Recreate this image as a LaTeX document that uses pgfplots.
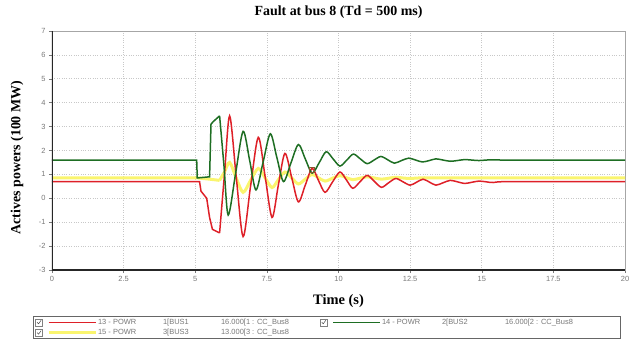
\documentclass[border=0pt]{standalone}
\usepackage{fontspec}
\setmainfont{Liberation Serif}
\setsansfont{Liberation Sans}
\usepackage{pgfplots}
\pgfplotsset{compat=1.18}
\definecolor{cred}{RGB}{222,32,40}
\definecolor{cgreen}{RGB}{30,110,35}
\definecolor{cyellow}{RGB}{250,245,110}
\definecolor{tickgray}{RGB}{120,120,120}
\definecolor{gridgray}{RGB}{200,200,200}
\begin{document}
\begin{tikzpicture}
\path[use as bounding box] (-52bp,-73bp) rectangle (584bp,270bp);
\begin{axis}[
  scale only axis,
  width=573bp, height=239bp,
  xmin=0, xmax=20, ymin=-3, ymax=7,
  xtick={0,2.5,5,7.5,10,12.5,15,17.5,20},
  ytick={-3,-2,-1,0,1,2,3,4,5,6,7},
  /pgf/number format/assume math mode=true,
  tick label style={font=\sffamily\fontsize{7.5}{8}\selectfont, text=tickgray},
  tick pos=left, tick align=outside,
  major tick length=3bp,
  tick style={tickgray, line width=0.4pt},
  grid=major,
  grid style={dotted, gridgray, line width=0.6pt},
  axis line style={gray!70, line width=0.6pt},
  title={Fault at bus 8 (Td = 500 ms)},
  title style={font=\bfseries\fontsize{14}{16}\selectfont, at={(axis description cs:0.5,1.054)}, anchor=center},
  xlabel={Time (s)},
  xlabel style={font=\bfseries\fontsize{14.5}{16}\selectfont, at={(axis description cs:0.5,-0.13)}, anchor=center},
  ylabel={Actives powers (100 MW)},
  ylabel style={font=\bfseries\fontsize{14}{16}\selectfont, at={(axis description cs:-0.061,0.47)}, anchor=center},
  legend columns=2,
  legend style={at={(axis description cs:-0.033,-0.1925)}, anchor=north west,
    draw=gray!80!black, line width=0.6pt, font=\sffamily\fontsize{7.5}{9}\selectfont, text=tickgray,
    inner xsep=2bp, inner ysep=1.5bp, row sep=1.5bp,
    nodes={inner sep=1bp}, /tikz/column sep=0bp},
  legend cell align=left,
  legend image code/.code={
    \draw[gray, line width=0.4pt, solid] (0bp,-3.5bp) rectangle (7bp,3.5bp);
    \draw[black!70, line width=0.5pt, solid] (1.5bp,0bp) -- (3bp,-1.5bp) -- (5.5bp,2bp);
    \draw[#1] (13bp,0bp) -- (60bp,0bp);
  },
]
% yellow
\addplot[cyellow, line width=3bp, forget plot] coordinates {
(0,0.85) (5.1,0.85) (5.5,0.8) (5.85,0.75)};
\addplot[cyellow, line width=3bp, smooth, forget plot] coordinates {
(5.85,0.75) (6.02,1.1) (6.2,1.5) (6.43,0.85) (6.67,0.25) (6.93,0.75) (7.2,1.25) (7.44,0.85) (7.68,0.45)
(7.9,0.78) (8.13,1.1) (8.37,0.85) (8.6,0.6) (8.84,0.8) (9.08,1.0) (9.3,0.86) (9.53,0.72)
(9.79,0.84) (10.05,0.95) (10.28,0.86) (10.5,0.78) (10.75,0.84) (11.0,0.9) (11.25,0.85)
(11.5,0.8) (11.75,0.84) (12.0,0.88) (12.25,0.85) (12.5,0.83) (13.0,0.86) (14.0,0.85) (20,0.85)};
% red
\addplot[cred, line width=1.5bp, forget plot] coordinates {
(0,0.7) (5.15,0.7) (5.2,0.3) (5.4,0.0) (5.5,-0.8) (5.6,-1.3) (5.85,-1.45)};
\addplot[cred, line width=1.5bp, smooth, forget plot] coordinates {
(5.85,-1.45) (6.02,1.0) (6.2,3.45) (6.43,0.9) (6.67,-1.6) (6.93,0.5) (7.2,2.55) (7.44,0.9)
(7.68,-0.8) (7.9,0.55) (8.13,1.88) (8.37,0.85) (8.6,-0.15) (8.84,0.55) (9.08,1.25)
(9.3,0.75) (9.53,0.25) (9.79,0.68) (10.05,1.1) (10.28,0.76) (10.5,0.42) (10.75,0.69)
(11.0,0.96) (11.25,0.71) (11.5,0.46) (11.75,0.65) (12.0,0.83) (12.25,0.69) (12.5,0.55)
(12.72,0.67) (12.95,0.8) (13.17,0.68) (13.4,0.55) (13.65,0.65) (13.9,0.75) (14.15,0.69)
(14.4,0.62) (14.65,0.67) (14.9,0.72) (15.15,0.69) (15.4,0.66) (16,0.7) (20,0.7)};
% green
\addplot[cgreen, line width=1.5bp, forget plot] coordinates {
(0,1.6) (5.05,1.6) (5.07,0.85) (5.5,0.9) (5.55,3.1) (5.62,3.2) (5.85,3.45)};
\addplot[cgreen, line width=1.5bp, smooth, forget plot] coordinates {
(5.85,3.45) (6.0,1.4) (6.15,-0.7) (6.41,1.05) (6.67,2.8) (6.9,1.58) (7.12,0.35) (7.37,1.52)
(7.62,2.7) (7.85,1.7) (8.08,0.7) (8.34,1.48) (8.6,2.25) (8.84,1.65) (9.08,1.05) (9.33,1.5)
(9.57,1.95) (9.81,1.65) (10.05,1.35) (10.29,1.6) (10.52,1.85) (10.76,1.65) (11.0,1.45)
(11.24,1.6) (11.48,1.75) (11.72,1.61) (11.95,1.47) (12.2,1.58) (12.45,1.68) (12.69,1.6)
(12.93,1.52) (13.17,1.58) (13.4,1.65) (13.65,1.6) (13.9,1.55) (14.15,1.58) (14.4,1.62)
(14.65,1.6) (14.9,1.58) (15.15,1.6) (15.4,1.61) (16,1.6) (20,1.6)};
% cursor marker
\addplot[only marks, mark=square, mark size=2.5bp, brown!70!black, line width=0.8pt, forget plot] coordinates {(9.07,1.17)};
% frame emphasis (left and bottom)
\draw[black!85, line width=1.6bp] (rel axis cs:0,1) -- (rel axis cs:0,0) -- (rel axis cs:1,0);
% legend
\addlegendimage{cred, line width=1.5bp}
\addlegendentry{\makebox[65bp][l]{13 - POWR}\makebox[58bp][l]{1[BUS1}\makebox[98bp][l]{16.000[1 : CC\_Bus8}}
\addlegendimage{cgreen, line width=1.5bp}
\addlegendentry{\makebox[60bp][l]{14 - POWR}\makebox[63bp][l]{2[BUS2}\makebox[112bp][l]{16.000[2 : CC\_Bus8}}
\addlegendimage{cyellow, line width=3bp}
\addlegendentry{\makebox[65bp][l]{15 - POWR}\makebox[58bp][l]{3[BUS3}\makebox[98bp][l]{13.000[3 : CC\_Bus8}}
\end{axis}
\end{tikzpicture}
\end{document}
